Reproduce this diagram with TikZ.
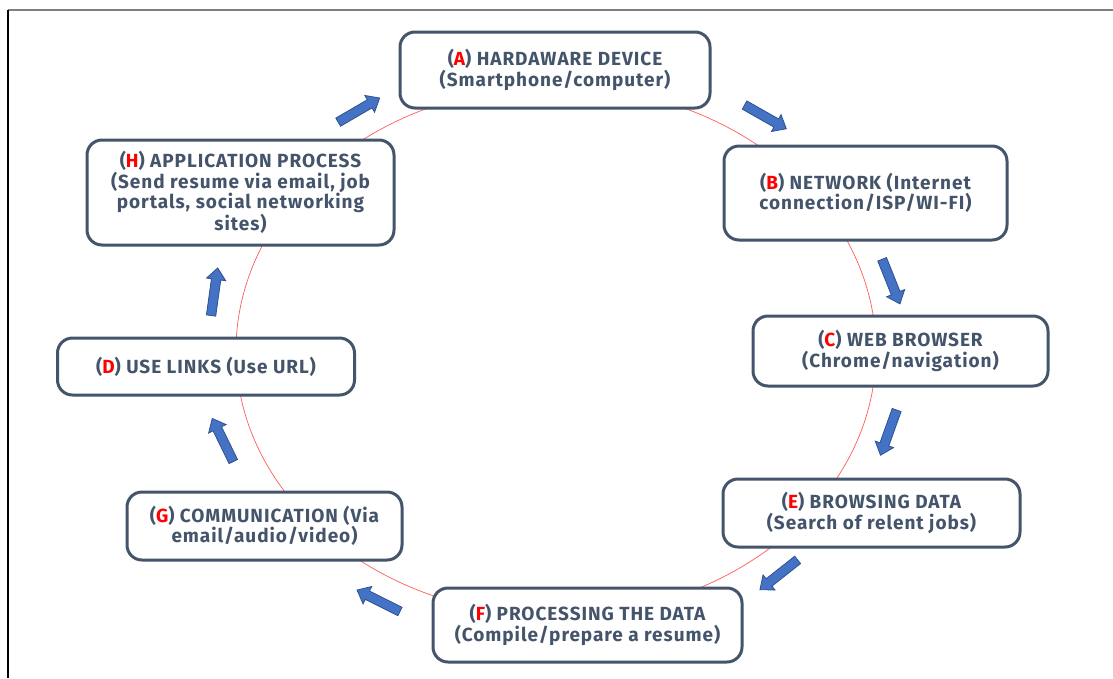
\documentclass[tikz,border=0pt]{standalone}
\usepackage{fontspec}
\setmainfont{Fira Sans}[LetterSpace=5]
\usetikzlibrary{shapes.arrows}
\definecolor{slate}{HTML}{44546A}
\definecolor{cycle}{HTML}{FF5A5A}
\definecolor{arrowfill}{HTML}{4472C4}
\definecolor{arrowline}{HTML}{2F528F}
\definecolor{framegray}{HTML}{7F7F7F}
\newcommand{\tag}[1]{(\textcolor{red}{#1})}
\tikzset{
  stage/.style={draw=slate, line width=3pt, rounded corners=15pt, fill=white,
    inner sep=0pt, align=center, text=slate,
    font=\fontsize{19}{20.5}\selectfont\bfseries},
  blockarrow/.style={single arrow, draw=arrowline, fill=arrowfill, line width=0.8pt,
    inner sep=4.3pt, minimum height=48pt, single arrow head extend=5pt,
    single arrow tip angle=80, sloped, allow upside down},
}
\begin{document}
\begin{tikzpicture}[x=1pt, y=-1pt]
  \useasboundingbox (0,0) rectangle (1113,678);
  % page frame
  \draw[framegray, line width=2pt] (8,10) -- (1113,10);
  \draw[black, line width=1.5pt] (8,10) -- (8,678);
  % cycle behind the stages
  \draw[cycle, line width=0.7pt] (556,351) ellipse [x radius=320, y radius=265];
  % stages
  \node[stage, minimum width=310, minimum height=76] (A) at (555,70)
    {\tag{A} HARDAWARE DEVICE\\(Smartphone/computer)};
  \node[stage, minimum width=283, minimum height=94] (B) at (865.5,193)
    {\tag{B} NETWORK (Internet\\connection/ISP/WI-FI)};
  \node[stage, minimum width=295, minimum height=70] (C) at (900.5,351)
    {\tag{C} WEB BROWSER\\(Chrome/navigation)};
  \node[stage, minimum width=297, minimum height=68] (E) at (871.5,513)
    {\tag{E} BROWSING DATA\\(Search of relent jobs)};
  \node[stage, minimum width=309, minimum height=74] (F) at (587.5,625)
    {\tag{F} PROCESSING THE DATA\\(Compile/prepare a resume)};
  \node[stage, minimum width=275, minimum height=68] (G) at (264.5,526)
    {\tag{G} COMMUNICATION (Via\\email/audio/video)};
  \node[stage, minimum width=297, minimum height=57] (D) at (206,366.5)
    {\tag{D} USE LINKS (Use URL)};
  \node[stage, minimum width=307, minimum height=105] (H) at (240.5,192.5)
    {\tag{H} APPLICATION PROCESS\\(Send resume via email, job\\portals, social networking\\sites)};
  % flow arrows between stages
  \coordinate (ha0) at (335,124); \coordinate (ha1) at (378,99);
  \coordinate (ab0) at (741,103); \coordinate (ab1) at (785,128);
  \coordinate (bc0) at (882,259); \coordinate (bc1) at (898,299);
  \coordinate (ce0) at (897,409); \coordinate (ce1) at (882,451);
  \coordinate (ef0) at (800,558); \coordinate (ef1) at (762,588);
  \coordinate (fg0) at (405,614); \coordinate (fg1) at (357,590);
  \coordinate (gd0) at (234,463); \coordinate (gd1) at (214,422);
  \coordinate (dh0) at (211,316); \coordinate (dh1) at (217,273);
  \path (ha0) -- (ha1) node[blockarrow, midway] (arHA) {};
  \path (ab0) -- (ab1) node[blockarrow, midway] (arAB) {};
  \path (bc0) -- (bc1) node[blockarrow, midway] (arBC) {};
  \path (ce0) -- (ce1) node[blockarrow, midway] (arCE) {};
  \path (ef0) -- (ef1) node[blockarrow, midway] (arEF) {};
  \path (fg0) -- (fg1) node[blockarrow, midway] (arFG) {};
  \path (gd0) -- (gd1) node[blockarrow, midway] (arGD) {};
  \path (dh0) -- (dh1) node[blockarrow, midway] (arDH) {};
\end{tikzpicture}
\end{document}
